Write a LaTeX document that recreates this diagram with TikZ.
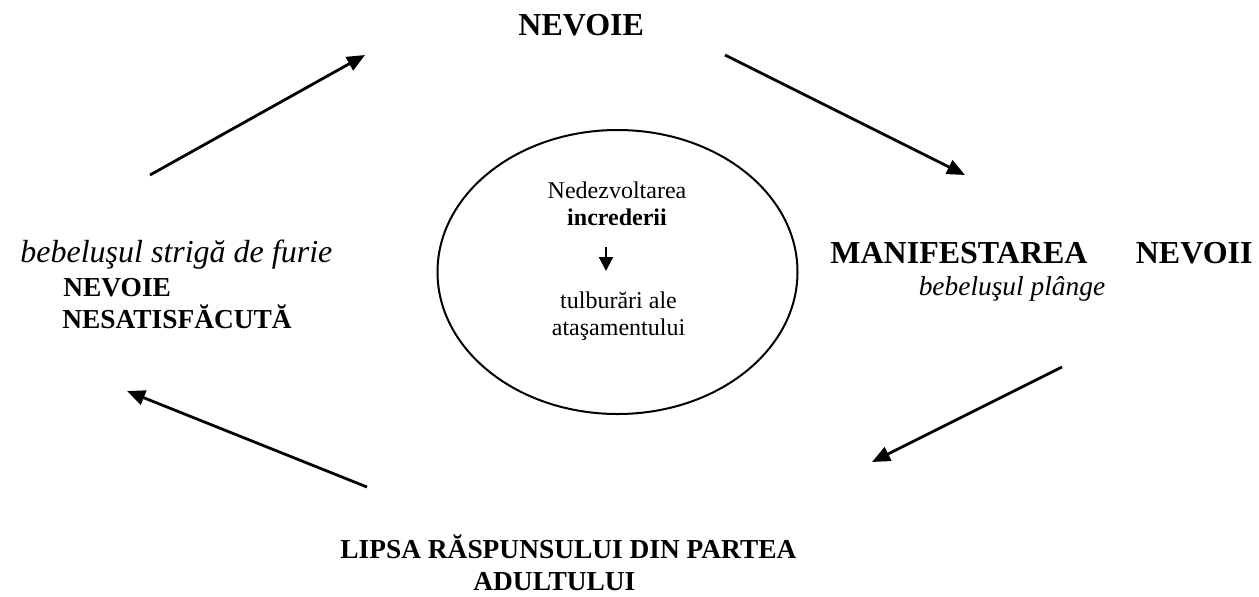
\documentclass[tikz,border=0pt]{standalone}
\usepackage{fontspec}
\setmainfont{Liberation Serif}
\usetikzlibrary{arrows.meta,shapes.geometric}

\tikzset{
  txt/.style={inner sep=0pt,anchor=base west},
  mare/.style={font=\fontsize{16}{19}\selectfont\bfseries},
  mareit/.style={font=\fontsize{16}{19}\selectfont\itshape},
  mediu/.style={font=\fontsize{13.7}{16}\selectfont\bfseries},
  mediuit/.style={font=\fontsize{13.7}{16}\selectfont\itshape},
  mic/.style={font=\fontsize{12}{14}\selectfont},
  sag/.style={line width=1.4pt,-{Triangle[length=9pt,width=7.5pt]}}
}

\begin{document}
\begin{tikzpicture}[x=0.5pt,y=-0.5pt]
      \useasboundingbox (0,0) rectangle (1259,596);

      % sus
      \node[txt,mare] (nevoie) at (518,35) {NEVOIE};

      % dreapta
      \node[txt,mare] (manif) at (830,263) {MANIFESTAREA};
      \node[txt,mare,anchor=base east] (nevoii) at (1253,263) {NEVOII};
      \node[txt,mediuit,anchor=base] (plange) at (1012,295) {bebeluşul plânge};

      % stanga
      \node[txt,mareit] (furie) at (20,262) {bebeluşul strigă de furie};
      \node[txt,mediu] (nesat1) at (63,296) {NEVOIE};
      \node[txt,mediu] (nesat2) at (62,328) {NESATISFĂCUTĂ};

      % jos
      \node[txt,mediu] (lipsa1) at (340,558) {LIPSA RĂSPUNSULUI DIN PARTEA};
      \node[txt,mediu] (lipsa2) at (473,590) {ADULTULUI};

      % centru
      \node[draw,ellipse,line width=1pt,inner sep=0pt,minimum width=180pt,minimum height=142pt] (cerc) at (617.5,272) {};
      \node[txt,mic,anchor=base] (ned) at (617,198) {Nedezvoltarea};
      \node[txt,mic,anchor=base] (incr) at (617,225) {\bfseries increderii};
      \node[txt,mic,anchor=base] (tulb) at (618.5,308) {tulburări ale};
      \node[txt,mic,anchor=base] (atas) at (618.5,335) {ataşamentului};
      \coordinate (m1) at (606,247);
      \coordinate (m2) at (606,271);
      \draw[line width=1pt,-{Triangle[length=7pt,width=7pt]}] (m1) -- (m2);

      % sageti
      \coordinate (s1) at (150,175);  \coordinate (e1) at (365,55);
      \coordinate (s2) at (725,55);   \coordinate (e2) at (965,175);
      \coordinate (s3) at (1062,367); \coordinate (e3) at (872,462);
      \coordinate (s4) at (367,487);  \coordinate (e4) at (127,391);
      \foreach \i in {1,2,3,4} {
        \draw[sag] (s\i) -- (e\i);
      }

\end{tikzpicture}
\end{document}
